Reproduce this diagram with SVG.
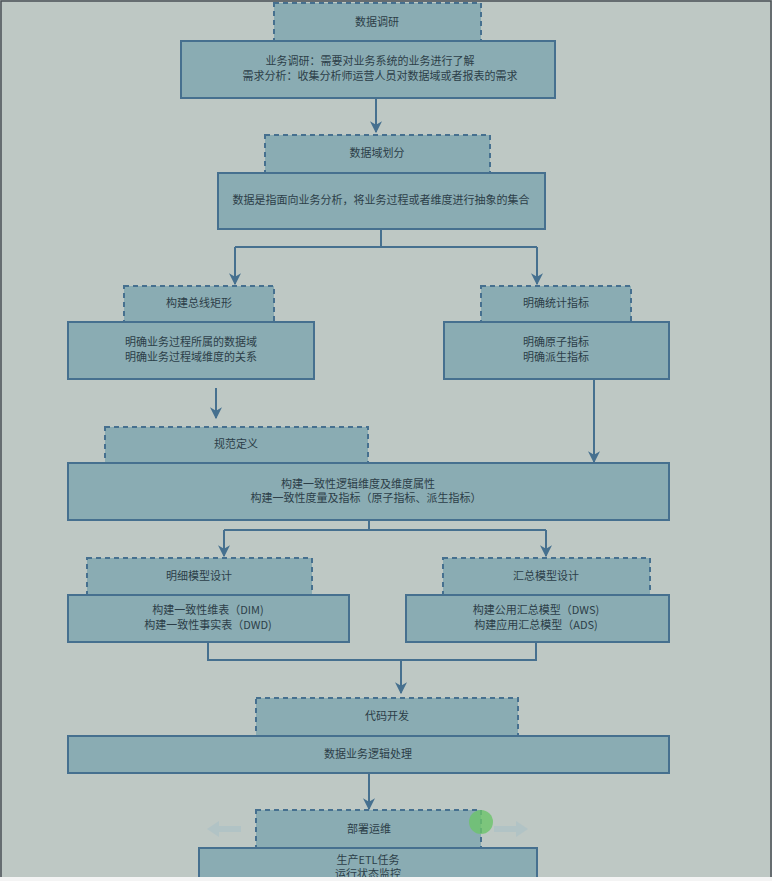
<svg xmlns="http://www.w3.org/2000/svg" width="772" height="881" viewBox="0 0 772 881">
<defs>
<style>
.d{fill:#8aacb3;stroke:#46708f;stroke-width:2;stroke-dasharray:5 4}
.s{fill:#8aacb3;stroke:#46708f;stroke-width:2}
.c{fill:none;stroke:#46708f;stroke-width:2}
text{font-family:"Noto Sans CJK SC","Noto Sans",sans-serif;font-size:11px;fill:#2c3e48;text-anchor:middle}
</style>
<marker id="a" viewBox="0 0 10 10" refX="9" refY="5" markerWidth="6" markerHeight="7" orient="auto"><path d="M0,0 L10,5 L0,10 L3,5 Z" fill="#46708f"/></marker>
</defs>
<rect width="772" height="881" fill="#bec8c4"/>
<rect x="1" y="1" width="770" height="877" fill="none" stroke="#4a4f55" stroke-width="1.5"/>
<g id="n1"><rect class="d" x="274" y="3" width="207" height="38"/><text x="377" y="26">数据调研</text>
<rect class="s" x="181" y="41" width="374" height="57"/><text x="370" y="65">业务调研：需要对业务系统的业务进行了解</text><text x="380" y="80">需求分析：收集分析师运营人员对数据域或者报表的需求</text></g>
<g id="n2"><rect class="d" x="265" y="135" width="225" height="38"/><text x="377" y="157">数据域划分</text>
<rect class="s" x="218" y="173" width="327" height="56"/><text x="381" y="204">数据是指面向业务分析，将业务过程或者维度进行抽象的集合</text></g>
<g id="n3"><rect class="d" x="124" y="286" width="150" height="36"/><text x="199" y="307">构建总线矩形</text>
<rect class="s" x="68" y="322" width="246" height="57"/><text x="191" y="346">明确业务过程所属的数据域</text><text x="191" y="361">明确业务过程域维度的关系</text></g>
<g id="n4"><rect class="d" x="481" y="286" width="150" height="36"/><text x="556" y="307">明确统计指标</text>
<rect class="s" x="444" y="322" width="225" height="57"/><text x="556" y="346">明确原子指标</text><text x="556" y="361">明确派生指标</text></g>
<g id="n5"><rect class="d" x="105" y="427" width="263" height="36"/><text x="236" y="448">规范定义</text>
<rect class="s" x="68" y="463" width="601" height="57"/><text x="358" y="488">构建一致性逻辑维度及维度属性</text><text x="366" y="502">构建一致性度量及指标（原子指标、派生指标）</text></g>
<g id="n6"><rect class="d" x="87" y="558" width="225" height="37"/><text x="199" y="580">明细模型设计</text>
<rect class="s" x="68" y="595" width="281" height="47"/><text x="208" y="614">构建一致性维表（DIM)</text><text x="208" y="629">构建一致性事实表（DWD)</text></g>
<g id="n7"><rect class="d" x="443" y="558" width="207" height="37"/><text x="546" y="580">汇总模型设计</text>
<rect class="s" x="406" y="595" width="263" height="47"/><text x="536" y="614">构建公用汇总模型（DWS)</text><text x="536" y="629">构建应用汇总模型（ADS)</text></g>
<g id="n8"><rect class="d" x="256" y="698" width="262" height="38"/><text x="387" y="720">代码开发</text>
<rect class="s" x="68" y="736" width="601" height="37"/><text x="368" y="758">数据业务逻辑处理</text></g>
<g id="n9"><rect class="d" x="256" y="810" width="225" height="38"/><text x="369" y="833">部署运维</text>
<rect class="s" x="199" y="848" width="338" height="33"/><text x="368" y="864">生产ETL任务</text><text x="368" y="878">运行状态监控</text></g>
<g id="edges">
<path class="c" d="M376,98 V132" marker-end="url(#a)"/>
<path class="c" d="M381,229 V247 M235,247 H537"/>
<path class="c" d="M235,247 V284" marker-end="url(#a)"/>
<path class="c" d="M537,247 V284" marker-end="url(#a)"/>
<path class="c" d="M216,388 V418" marker-end="url(#a)"/>
<path class="c" d="M594,379 V462" marker-end="url(#a)"/>
<path class="c" d="M369,520 V530 M224,530 H546"/>
<path class="c" d="M224,530 V556" marker-end="url(#a)"/>
<path class="c" d="M546,530 V556" marker-end="url(#a)"/>
<path class="c" d="M208,642 V660 H536 V642"/>
<path class="c" d="M401,660 V693" marker-end="url(#a)"/>
<path class="c" d="M369,773 V809" marker-end="url(#a)"/>
</g>
<g id="handles" opacity="0.6">
<path d="M207,829 l12,-8 v5 h22 v6 h-22 v5 z" fill="#a9bfc6"/>
<path d="M528,829 l-12,-8 v5 h-22 v6 h22 v5 z" fill="#a9bfc6"/>
</g>
<circle cx="481" cy="822" r="12" fill="#6cc46a" opacity="0.8"/>
<rect x="0" y="877" width="772" height="4" fill="#f4f4f4"/>
</svg>
